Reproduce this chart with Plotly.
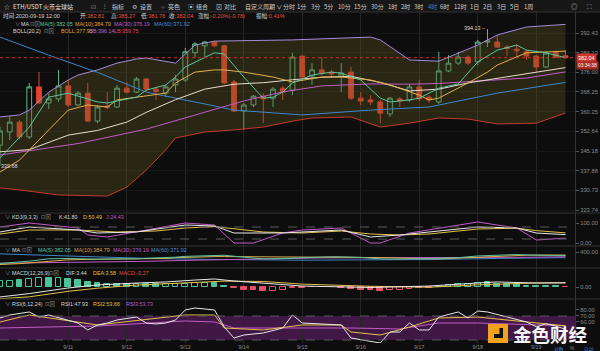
import math
import pandas as pd
import plotly.graph_objects as go

# ---------------- data ----------------
times = pd.date_range("2020-09-09 20:00", periods=59, freq="4h")

opens = [347.4, 352.4, 356.2, 350.5, 370.1, 363.7, 365.3, 370.5, 362.9, 367.6,
         356.6, 362.5, 362.1, 369.6, 368.0, 373.3, 369.2, 367.6, 370.9, 372.9,
         384.1, 387.0, 388.6, 387.0, 372.1, 360.5, 362.9, 366.4, 365.6, 369.6,
         368.8, 382.7, 374.5, 377.0, 376.1, 374.5, 376.1, 365.6, 364.9, 364.1,
         359.4, 365.3, 364.9, 370.1, 366.0, 364.1, 376.6, 379.8, 382.3, 380.3,
         388.6, 388.6, 386.5, 385.6, 384.5, 382.7, 378.2, 384.5, 382.81]
highs = [354.4, 358.6, 357.0, 371.7, 376.2, 367.6, 377.0, 372.9, 368.4, 371.7,
         362.9, 368.0, 370.9, 372.1, 374.1, 373.7, 370.1, 370.9, 374.9, 386.1,
         388.6, 389.0, 389.0, 387.3, 372.9, 363.7, 366.8, 367.6, 370.1, 370.5,
         384.1, 383.1, 379.8, 382.3, 377.0, 379.8, 378.2, 368.0, 366.8, 364.9,
         366.0, 366.0, 371.3, 372.9, 366.8, 384.5, 383.1, 384.5, 383.1, 389.5,
         394.13, 391.6, 387.3, 387.7, 385.2, 383.1, 384.5, 384.9, 385.27]
lows = [339.68, 349.3, 349.7, 349.7, 363.3, 361.3, 364.1, 362.1, 362.5, 356.2,
        355.8, 361.3, 361.7, 367.6, 367.6, 368.4, 364.9, 366.0, 368.0, 372.1,
        382.3, 382.3, 386.5, 371.3, 360.1, 353.2, 362.1, 355.8, 362.1, 364.9,
        366.8, 373.7, 370.9, 374.9, 373.7, 368.0, 364.9, 362.9, 362.9, 355.8,
        358.2, 362.1, 364.1, 364.5, 363.7, 363.3, 376.2, 379.0, 379.0, 379.0,
        386.5, 386.1, 382.7, 382.3, 381.1, 376.2, 377.8, 381.9, 381.76]
closes = [352.8, 356.2, 350.5, 370.1, 363.7, 365.3, 370.5, 362.9, 367.6, 356.6,
          362.1, 361.9, 369.6, 368.0, 373.3, 369.2, 368.2, 370.1, 373.3, 384.5,
          387.8, 388.6, 387.0, 371.7, 360.5, 362.9, 366.4, 365.3, 369.2, 368.0,
          382.3, 374.1, 377.0, 375.7, 375.3, 375.7, 365.6, 364.5, 364.1, 359.7,
          365.6, 364.5, 370.1, 365.3, 364.9, 376.6, 379.8, 382.3, 379.8, 388.6,
          389.0, 386.5, 385.9, 384.9, 382.7, 378.2, 384.0, 382.3, 382.04]

# moving averages (read at sample candles)
ma5_idx = [0, 3, 5, 7, 10, 11, 14, 15, 17, 18, 19, 21, 22, 23, 25, 27, 28, 29, 30, 32,
           34, 35, 37, 39, 40, 42, 43, 45, 47, 49, 51, 53, 54, 56, 58]
ma5_val = [342.6, 354.3, 366.0, 367.6, 364.1, 363.7, 366.0, 368.8, 370.9, 374.1,
           378.2, 381.9, 384.1, 383.6, 374.1, 365.6, 366.0, 368.0, 371.7, 374.9,
           376.1, 375.7, 372.9, 365.6, 364.1, 364.9, 365.6, 369.6, 371.3, 380.3,
           385.2, 387.3, 385.2, 384.1, 382.05]
ma10_idx = [0, 2, 5, 7, 9, 11, 12, 14, 15, 17, 18, 20, 22, 23, 25, 28, 30, 33, 35, 38,
            40, 43, 44, 45, 48, 50, 51, 54, 58]
ma10_val = [337.4, 341.8, 353.2, 360.9, 362.9, 362.1, 364.9, 366.0, 366.4, 367.6,
            371.7, 376.1, 377.0, 377.0, 376.1, 374.1, 372.1, 374.1, 374.1, 372.9,
            370.9, 366.8, 364.9, 365.6, 371.7, 376.1, 379.0, 384.1, 384.79]
ma30_idx = [0, 8, 15, 20, 25, 29, 33, 38, 42, 45, 50, 54, 58]
ma30_val = [343.7, 348.0, 353.5, 359.0, 364.5, 368.1, 370.5, 371.3, 371.2, 371.5,
            372.7, 373.7, 376.19]
ma60_idx = [0, 5, 10, 15, 21, 24, 31, 38, 44, 51, 58]
ma60_val = [390.7, 383.1, 376.0, 368.0, 363.3, 360.9, 359.0, 360.9, 362.1, 367.6, 371.92]

# Bollinger (20,2)
mid_idx = [0, 3, 7, 10, 13, 15, 18, 21, 24, 27, 30, 33, 36, 39, 42, 45, 48, 51, 54, 58]
mid_val = [344.9, 345.7, 351.2, 353.0, 356.2, 360.0, 365.0, 369.2, 371.2, 371.8,
           373.0, 374.0, 374.4, 371.9, 368.5, 369.2, 371.7, 373.6, 375.4, 377.95]
ub_idx = [0, 2, 3, 5, 7, 8, 10, 12, 14, 15, 18, 20, 21, 22, 30, 38, 39, 42, 45, 47,
          49, 51, 54, 58]
ub_val = [358.2, 359.0, 360.9, 368.0, 372.9, 374.9, 377.0, 379.8, 381.5, 381.9,
          379.8, 387.3, 388.2, 389.0, 389.5, 390.7, 389.5, 381.1, 380.6, 384.1,
          387.3, 391.6, 395.0, 396.14]
lb_idx = [0, 2, 6, 11, 13, 15, 17, 18, 21, 24, 27, 30, 32, 36, 39, 42, 45, 48, 51, 55, 58]
lb_val = [331.6, 330.9, 329.1, 328.7, 331.9, 338.1, 345.6, 350.1, 352.4, 353.2,
          354.3, 356.6, 357.8, 358.2, 354.3, 355.8, 357.8, 357.4, 355.5, 355.8, 359.75]

# KDJ(9,3,3)
k_idx = [0, 3, 8, 10, 14, 19, 22, 24, 29, 31, 35, 38, 41, 44, 49, 53, 55, 58]
k_val = [55, 80, 65, 50, 55, 90, 85, 50, 50, 55, 65, 30, 40, 55, 80, 75, 50, 41.80]
d_idx = [0, 3, 8, 12, 16, 19, 22, 24, 27, 31, 35, 38, 41, 44, 49, 53, 55, 58]
d_val = [45, 65, 65, 55, 60, 75, 82, 70, 55, 50, 60, 45, 40, 45, 70, 74, 62, 50.49]
j_idx = [0, 3, 8, 9, 11, 19, 22, 24, 26, 29, 31, 35, 38, 39, 42, 44, 49, 53, 55, 58]
j_val = [80, 100, 75, 40, 30, 100, 90, 0, 0, 50, 65, 75, 0, 0, 50, 65, 105, 75, 15, 24.43]

# MACD(12,26,9)
macd_hist = [5.3, 5.3, 5.8, 6.7, 7.5, 7.5, 7.5, 6.7, 5.8, 4.2,
             3.3, 2.8, 2.5, 2.8, 2.5, 2.5, 2.5, 2.5, 2.5, 2.8,
             3.3, 3.3, 3.3, 0.8, -0.8, -2.2, -2.2, -3.0, -3.0, -2.2,
             -1.2, -0.5, -0.4, -0.2, -0.2, -0.5, -1.7, -2.2, -2.2, -3.0,
             -2.2, -2.2, -1.7, -1.2, -0.8, 0.2, 1.7, 2.5, 2.5, 3.6,
             4.4, 2.8, 2.8, 2.5, 1.0, 1.0, 0.6, 1.0, -0.27]
macd_solid = [0, 0, 1, 0, 0, 1, 0, 1, 1, 1, 1, 0, 1, 1, 0, 1, 1, 0, 0, 0,
              0, 0, 1, 1, 1, 1, 1, 1, 0, 0, 0, 0, 1, 0, 0, 1, 1, 1, 1, 1,
              0, 0, 0, 0, 0, 1, 0, 0, 0, 0, 1, 1, 1, 1, 0, 0, 0, 1, 1]
dif_idx = [0, 3, 7, 10, 14, 17, 20, 22, 24, 27, 31, 38, 44, 49, 51, 55, 58]
dif_val = [-8.3, -5.5, -0.8, 1.7, 3.3, 4.2, 5.8, 6.7, 5.0, 3.3, 0.8, -0.4, 0.8, 3.3, 4.2, 3.3, 3.44]
dea_idx = [0, 3, 7, 10, 14, 17, 20, 23, 27, 31, 38, 44, 49, 52, 55, 58]
dea_val = [-9.8, -8.2, -3.6, -1.0, 1.6, 2.8, 4.0, 4.9, 4.6, 2.4, 0.6, -0.2, 1.8, 2.9, 3.4, 3.58]

# RSI
rsi1_idx = [0, 1, 3, 4, 5, 7, 8, 9, 10, 11, 12, 14, 15, 16, 17, 18, 19, 20, 22, 23,
            24, 25, 27, 29, 30, 31, 35, 36, 39, 40, 41, 42, 43, 44, 45, 47, 48, 49, 50, 52,
            54, 55, 56, 57, 58]
rsi1_val = [66.7, 71.7, 76.7, 68.3, 71.7, 63.3, 58.3, 46.7, 55, 58.3,
            63.3, 68.3, 58.3, 56.7, 58.3, 63.3, 80, 83.3, 80, 51.7,
            33.3, 38.3, 41.7, 50, 71.7, 58.3, 55, 33.3, 25, 43.3,
            43.3, 58.3, 46.7, 46.7, 68.3, 76.7, 66.7, 78.3, 76.7, 68.3,
            60, 52, 57, 53, 47.93]
rsi2_idx = [0, 3, 10, 19, 22, 23, 27, 31, 35, 36, 39, 42, 45, 49, 52, 58]
rsi2_val = [60, 71.7, 55, 71.7, 71.7, 50, 46.7, 55, 55, 43.3, 38.3, 51.7, 66.7, 68.3, 63.3, 53.66]
rsi3_idx = [0, 10, 19, 22, 24, 31, 36, 41, 45, 49, 58]
rsi3_val = [50, 53.3, 61.7, 60, 50, 50, 50, 48.3, 58.3, 58.3, 53.73]

main_ticks = [392.43, 384.13, 376.00, 368.25, 360.25, 352.64, 345.18, 337.88, 330.73, 323.74]
day_ticks = ["2020-09-11", "2020-09-12", "2020-09-13", "2020-09-14", "2020-09-15",
             "2020-09-16", "2020-09-17", "2020-09-18", "2020-09-19"]
day_labels = ["9/11", "9/12", "9/13", "9/14", "9/15", "9/16", "9/17", "9/18", "9/19"]

# ---------------- layout helpers ----------------
W, H = 600, 351
MR, MB = 25, 8
PW, PH = W - MR, H - MB


def px(x):
    return x / PW


def py(y):
    return (PH - y) / PH


BG = "#0d0d0d"
GRID = "#262626"
SEP = "#333333"
TXT = "#cfcfcf"
GRAY = "#8a8a8a"
UP = "#5cb88a"
DOWN = "#e5432f"
C_MA5 = "#5fc4a0"
C_MA10 = "#e3b04b"
C_MA30 = "#c25bc6"
C_MA60 = "#3f86c9"
C_MID = "#e9dccf"
C_UB = "#a58bd8"
C_LB = "#c43a2e"
C_K = "#e8e8e8"
C_D = "#e3c04b"
C_J = "#c25bc6"
FONT = "Liberation Sans, Noto Sans CJK SC, DejaVu Sans, sans-serif"
CJK = "Noto Sans CJK SC, Liberation Sans, DejaVu Sans, sans-serif"


def at(idx):
    return [times[i] for i in idx]


x_start = times[0]
x_end = times[0] + pd.Timedelta(hours=4 * PW / 9.75)

fig = go.Figure()


def line(idx, val, color, ax, width=1):
    fig.add_trace(go.Scatter(x=at(idx), y=val, mode="lines", xaxis=ax[0], yaxis=ax[1],
                             line=dict(color=color, width=width), hoverinfo="skip",
                             showlegend=False))


M = ("x", "y")
# Bollinger band
fig.add_trace(go.Scatter(x=at(lb_idx), y=lb_val, mode="lines", line=dict(color=C_LB, width=1),
                         showlegend=False, hoverinfo="skip"))
fig.add_trace(go.Scatter(x=at(ub_idx), y=ub_val, mode="lines", line=dict(color=C_UB, width=1),
                         fill="tonexty", fillcolor="rgba(95,90,35,0.35)", showlegend=False,
                         hoverinfo="skip"))
line(ma60_idx, ma60_val, C_MA60, M)
line(ma30_idx, ma30_val, C_MA30, M)
line(mid_idx, mid_val, C_MID, M)
line(ma10_idx, ma10_val, C_MA10, M)
line(ma5_idx, ma5_val, C_MA5, M)

fig.add_trace(go.Candlestick(
    x=times, open=opens, high=highs, low=lows, close=closes,
    increasing=dict(line=dict(color=UP, width=1), fillcolor="rgba(0,0,0,0)"),
    decreasing=dict(line=dict(color=DOWN, width=1), fillcolor=DOWN),
    whiskerwidth=0, showlegend=False, hoverinfo="skip"))

# current price dotted line
fig.add_trace(go.Scatter(x=[x_start, x_end], y=[closes[-1], closes[-1]], mode="lines",
                         line=dict(color="#b8342a", width=1, dash="dot"), showlegend=False,
                         hoverinfo="skip"))

# KDJ
KD = ("x2", "y2")
line(d_idx, d_val, C_D, KD)
line(j_idx, j_val, C_J, KD)
line(k_idx, k_val, C_K, KD)

# MA panel
MP = ("x3", "y3")
line(ma60_idx, ma60_val, C_MA60, MP)
line(ma30_idx, ma30_val, C_MA30, MP)
line(ma10_idx, ma10_val, C_MA10, MP)
line(ma5_idx, ma5_val, C_MA5, MP)

# MACD
GB = "#4cc39a"
RB = "#e8506a"
bar_line = [GB if v >= 0 else RB for v in macd_hist]
bar_fill = [(GB if v >= 0 else RB) if s else "rgba(0,0,0,0)" for v, s in zip(macd_hist, macd_solid)]
fig.add_trace(go.Bar(x=times, y=macd_hist, xaxis="x4", yaxis="y4",
                     marker=dict(color=bar_fill, line=dict(color=bar_line, width=1)),
                     width=4 * 3600 * 1000 * 0.6, showlegend=False, hoverinfo="skip"))
MC = ("x4", "y4")
line(dea_idx, dea_val, C_D, MC)
line(dif_idx, dif_val, C_K, MC)

# RSI
RS = ("x5", "y5")
line(rsi3_idx, rsi3_val, C_J, RS)
line(rsi2_idx, rsi2_val, C_D, RS)
line(rsi1_idx, rsi1_val, C_K, RS)

# ---------------- axes ----------------
doms = {
    "y": (py(213), py(12)),
    "y2": (py(246), py(213)),
    "y3": (py(268), py(246)),
    "y4": (py(299), py(268)),
    "y5": (0.0, py(299)),
}
tickfont = dict(size=5.8, color=GRAY, family=FONT)
common_y = dict(side="right", showline=True, linecolor=SEP, ticks="outside", ticklen=3,
                tickcolor="#555555", tickfont=tickfont, zeroline=False, fixedrange=True)

layout = dict(
    width=W, height=H, margin=dict(l=0, r=MR, t=0, b=MB),
    paper_bgcolor=BG, plot_bgcolor="rgba(0,0,0,0)", showlegend=False,
    bargap=0, dragmode=False,
)
for n in range(1, 6):
    key = "xaxis" if n == 1 else f"xaxis{n}"
    ax = dict(anchor="y" if n == 1 else f"y{n}", tickvals=day_ticks, ticktext=day_labels,
              showgrid=True, gridcolor=GRID, gridwidth=1, zeroline=False, showline=False,
              ticks="", showticklabels=(n == 5), tickfont=dict(size=5.4, color=GRAY, family=FONT),
              fixedrange=True)
    if n == 1:
        ax["range"] = [x_start, x_end]
        ax["rangeslider"] = dict(visible=False)
        ax["type"] = "date"
    else:
        ax["matches"] = "x"
    layout[key] = ax

lo, hi = 322.7, 401.5
layout["yaxis"] = dict(common_y, domain=list(doms["y"]), type="log",
                       range=[math.log10(lo), math.log10(hi)],
                       tickvals=main_ticks, ticktext=[f"{v:.2f}" for v in main_ticks],
                       showgrid=True, gridcolor="#171717")
layout["yaxis2"] = dict(common_y, domain=list(doms["y2"]), range=[-15, 150],
                        tickvals=[0, 100], ticktext=["0.00", "100.00"], showgrid=False)
layout["yaxis3"] = dict(common_y, domain=list(doms["y3"]), range=[320, 430],
                        tickvals=[400], ticktext=["400.00"], showgrid=False)
layout["yaxis4"] = dict(common_y, domain=list(doms["y4"]), range=[-10, 15.83],
                        tickvals=[0], ticktext=["0.00"], showgrid=False)
layout["yaxis5"] = dict(common_y, domain=list(doms["y5"]), range=[25, 98.3],
                        tickvals=[60, 70, 80], ticktext=["60.00", "70.00", "80.00"],
                        showgrid=False)
fig.update_layout(**layout)


def main_py(price):
    d0, d1 = doms["y"]
    f = (math.log10(price) - math.log10(lo)) / (math.log10(hi) - math.log10(lo))
    return d0 + f * (d1 - d0)


# ---------------- shapes ----------------
shapes = []
# toolbar
shapes.append(dict(type="rect", xref="paper", yref="paper", x0=0, x1=W / PW, y0=py(12), y1=1.0,
                   fillcolor="#171717", line=dict(width=0), layer="below"))
# RSI band
shapes.append(dict(type="rect", xref="paper", yref="y5", x0=0, x1=1, y0=30, y1=70,
                   fillcolor="#411845", line=dict(width=0), layer="below"))
for yref, v in [("y5", 70), ("y5", 30), ("y2", 80), ("y2", 20)]:
    shapes.append(dict(type="line", xref="paper", yref=yref, x0=0, x1=1, y0=v, y1=v,
                       line=dict(color="#5a5a5a", width=1, dash="dash")))
for ysep in [12, 213, 246, 268, 299]:
    shapes.append(dict(type="line", xref="paper", yref="paper", x0=0, x1=W / PW,
                       y0=py(ysep), y1=py(ysep), line=dict(color=SEP, width=1)))
# watermark logo
shapes.append(dict(type="rect", xref="paper", yref="paper", x0=px(488), x1=px(508),
                   y0=py(343), y1=py(324), fillcolor="#f0a21e", line=dict(width=0)))
shapes.append(dict(type="rect", xref="paper", yref="paper", x0=px(494), x1=px(503),
                   y0=py(338), y1=py(328), fillcolor="#111111", line=dict(width=0)))
shapes.append(dict(type="rect", xref="paper", yref="paper", x0=px(494), x1=px(499.5),
                   y0=py(334), y1=py(328), fillcolor="#f0a21e", line=dict(width=0)))
fig.update_layout(shapes=shapes)

# ---------------- text ----------------
anns = []


def label(x, y, text, color=TXT, size=5.4, anchor="left", family=FONT, bg=None, yabs=None):
    d = dict(x=px(x), y=(py(y) if yabs is None else yabs), xref="paper", yref="paper",
             text=text, showarrow=False, xanchor=anchor, yanchor="middle",
             font=dict(size=size, color=color, family=family), borderpad=0)
    if bg:
        d["bgcolor"] = bg
        d["borderpad"] = 1
    anns.append(d)


def kv(k, v, kc, vc):
    return f'<span style="color:{kc}">{k}</span><span style="color:{vc}">{v}</span>'


# toolbar
tool = [(3, "☆", "#bbbbbb"), (12, "ETH/USDT", "#e6e6e6"), (42, "火币全球站", "#e6e6e6"),
        (90, "⊡", "#999999"), (103, "⫶", "#bbbbbb"), (111, "指标", TXT),
        (131, "⚙", "#bbbbbb"), (139, "设置", TXT), (159, "☼", "#bbbbbb"), (167, "亮色", TXT),
        (187, "▣", "#bbbbbb"), (195, "组合", TXT), (215, "⊠", "#bbbbbb"), (223, "对比", TXT),
        (244, "自定义周期 ∨", TXT), (282, "分时", TXT)]
periods = [("1分", 296), ("3分", 310), ("5分", 323), ("10分", 337), ("15分", 353),
           ("30分", 370), ("1时", 387), ("2时", 400), ("3时", 413), ("4时", 427),
           ("6时", 439), ("12时", 453), ("1日", 469), ("2日", 482), ("3日", 496),
           ("5日", 509), ("1周", 523)]
for x, t, c in tool:
    label(x, 6, t, c, size=6.0, family=CJK)
for t, x in periods:
    label(x, 6, t, "#3d7fe0" if t == "4时" else TXT, size=6.0, family=CJK)
label(570, 6, "◎", "#aaaaaa", size=6.5)
label(586, 6, "⛶", "#aaaaaa", size=6.5)

RED_T = "#e8533f"
W_T = "#d8d8d8"
line1 = [(2, "时间:", "2020-09-19 12:00", W_T), (79, "开:", "382.81", RED_T),
         (110, "高:", "385.27", RED_T), (140, "低:", "381.76", RED_T),
         (168, "收:", "382.04", RED_T), (197, "涨幅:", "-0.20%(-0.78)", RED_T),
         (255, "振幅:", "0.41%", RED_T)]
for x, k, v, c in line1:
    label(x, 16.5, kv(k, v, W_T, c), size=5.6)

label(14, 24.5, "∨", GRAY)
label(20, 24.5, "MA", W_T)
label(29, 24.5, "⊡⊠", GRAY)
label(39, 24.5, "MA(5):382.05", C_MA5)
label(74, 24.5, "MA(10):384.79", "#e0a040")
label(113, 24.5, "MA(30):376.19", C_MA30)
label(153, 24.5, "MA(60):371.92", "#4a8ed8")

label(12, 31.5, "BOLL(20,2)", W_T)
label(43, 31.5, "⊡⊠", GRAY)
label(60, 31.5, "BOLL:377.95", "#e0a040")
label(88, 31.5, "UB:396.14", "#a070e0")
label(113, 31.5, "LB:359.75", "#e04060")

# panel headers
label(4, 217, "∨", GRAY)
label(11, 217, "KDJ(9,3,3)", W_T)
label(40, 217, "⊡⊠", GRAY)
label(58, 217, "K:41.80", W_T)
label(82, 217, "D:50.49", C_D)
label(105, 217, "J:24.43", C_J)

label(4, 250, "∨", GRAY)
label(11, 250, "MA", W_T)
label(21, 250, "⊡⊠", GRAY)
label(37, 250, "MA(5):382.05", C_MA5)
label(73, 250, "MA(10):384.79", "#e0a040")
label(112, 250, "MA(30):376.19", C_MA30)
label(150, 250, "MA(60):371.92", "#4a8ed8")

label(4, 273, "∨", GRAY)
label(11, 273, "MACD(12,26,9)", W_T)
label(48, 273, "⊡⊠", GRAY)
label(65, 273, "DIF:3.44", W_T)
label(92, 273, "DEA:3.58", C_D)
label(118, 273, "MACD:-0.27", "#e04a4a")

label(4, 304, "∨", GRAY)
label(11, 304, "RSI(6,12,24)", W_T)
label(44, 304, "⊡⊠", GRAY)
label(60, 304, "RSI1:47.93", W_T)
label(92, 304, "RSI2:53.66", C_D)
label(125, 304, "RSI3:53.73", C_J)

# extreme markers
label(486, 0, "394.13 –", "#dddddd", anchor="right", yabs=main_py(max(highs)) + 0.004)
label(0, 0, "339.68", "#dddddd", anchor="left", yabs=main_py(min(lows)))

# current price tags
label(576.5, 0, f"{closes[-1]:.2f}", "#ffffff", size=5.4, bg="#d0342c", yabs=main_py(closes[-1]))
label(576.5, 0, "03:34:38", "#ffffff", size=4.8, bg="#a82a22", yabs=main_py(closes[-1]) - 0.022)

# watermark
label(512, 333.5, "<b>金色财经</b>", "#f4f4f4", size=18.5, family=CJK)

# bottom-right controls
label(553, 348.5, "对数", "#3d7fe0", size=4.8, family=CJK)
label(569, 348.5, "%", GRAY, size=4.8)
label(583, 348.5, "自动", "#3d7fe0", size=4.8, family=CJK)

fig.update_layout(annotations=anns)
fig.write_html("out.html")
